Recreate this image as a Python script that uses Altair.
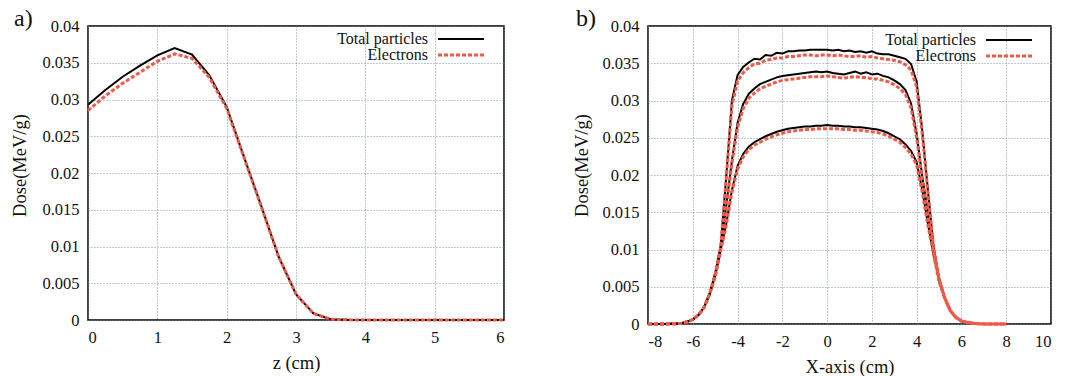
import altair as alt
import pandas as pd

FONT = "'Liberation Serif', 'Times New Roman', Times, serif"
RED = "#F05A48"
GRID = "#6f8ca0"

# ---------------- panel a) depth dose ----------------
Z_A = [0, 0.25, 0.5, 0.75, 1, 1.25, 1.5, 1.75, 2, 2.25, 2.5, 2.75, 3, 3.25,
       3.5, 3.75, 4, 4.5, 5, 5.5, 6]
A_TOTAL = [0.0293, 0.0313, 0.0331, 0.0346, 0.0360, 0.0370, 0.0361, 0.0333,
           0.0290, 0.0222, 0.0155, 0.0086, 0.0035, 0.0009, 0.0001, 0.00002,
           0, 0, 0, 0, 0]
A_ELEC = [0.0285, 0.0305, 0.0322, 0.0337, 0.0352, 0.0362, 0.0356, 0.0330,
          0.0288, 0.0221, 0.0154, 0.0086, 0.0035, 0.0009, 0.0001, 0.00002,
          0, 0, 0, 0, 0]

# ---------------- panel b) lateral profiles ----------------
X_B = [-8, -7.75, -7.5, -7.25, -7, -6.75, -6.5, -6.25, -6, -5.75, -5.5, -5.25,
       -5, -4.75, -4.5, -4.25, -4, -3.75, -3.5, -3.25, -3, -2.75, -2.5, -2.25,
       -2, -1.75, -1.5, -1.25, -1, -0.75, -0.5, -0.25, 0, 0.25, 0.5, 0.75,
       1, 1.25, 1.5, 1.75, 2, 2.25, 2.5, 2.75, 3, 3.25, 3.5, 3.75,
       4, 4.25, 4.5, 4.75, 5, 5.25, 5.5, 5.75, 6, 6.25, 6.5, 6.75,
       7, 7.25, 7.5, 7.75, 8]
LEFT_TAIL = [0, 0, 0, 0, 0.00002, 0.00005, 0.0001, 0.0003, 0.0006, 0.0012,
             0.0022, 0.0040]
RIGHT_TAIL = [0.0035, 0.0018, 0.0009, 0.0004, 0.0002, 0.0001, 0.00004,
              0.00001, 0, 0, 0, 0]

HIGH_TOTAL_CORE = [0.0068, 0.0105, 0.0200, 0.0300, 0.0334, 0.0345, 0.0351,
                   0.0356, 0.0355, 0.0361, 0.0360, 0.0364, 0.0363, 0.0366,
                   0.0366, 0.0367, 0.0367, 0.0368, 0.0368, 0.0368, 0.0368,
                   0.0367, 0.0368, 0.0366, 0.0367, 0.0365, 0.0366, 0.0364,
                   0.0366, 0.0363, 0.0362, 0.0362, 0.0360, 0.0358, 0.0356,
                   0.0349, 0.0325, 0.0260, 0.0180, 0.0105, 0.0062]
HIGH_ELEC_CORE = [0.0067, 0.0104, 0.0197, 0.0293, 0.0326, 0.0337, 0.0344,
                  0.0349, 0.0350, 0.0354, 0.0355, 0.0357, 0.0357, 0.0359,
                  0.0359, 0.0360, 0.0361, 0.0361, 0.0360, 0.0361, 0.0361,
                  0.0360, 0.0361, 0.0360, 0.0359, 0.0359, 0.0360, 0.0358,
                  0.0359, 0.0357, 0.0356, 0.0355, 0.0354, 0.0352, 0.0348,
                  0.0341, 0.0318, 0.0255, 0.0177, 0.0104, 0.0061]
MID_TOTAL_CORE = [0.0066, 0.0103, 0.0160, 0.0220, 0.0270, 0.0295, 0.0309,
                  0.0316, 0.0322, 0.0325, 0.0328, 0.0331, 0.0333, 0.0334,
                  0.0335, 0.0336, 0.0337, 0.0338, 0.0339, 0.0338, 0.0339,
                  0.0337, 0.0336, 0.0335, 0.0337, 0.0339, 0.0336, 0.0338,
                  0.0335, 0.0336, 0.0333, 0.0331, 0.0327, 0.0322, 0.0314,
                  0.0296, 0.0255, 0.0198, 0.0150, 0.0100, 0.0060]
MID_ELEC_CORE = [0.0065, 0.0102, 0.0157, 0.0216, 0.0264, 0.0289, 0.0303,
                 0.0310, 0.0316, 0.0319, 0.0322, 0.0325, 0.0327, 0.0328,
                 0.0329, 0.0330, 0.0331, 0.0332, 0.0332, 0.0332, 0.0333,
                 0.0332, 0.0331, 0.0330, 0.0331, 0.0332, 0.0331, 0.0331,
                 0.0329, 0.0329, 0.0327, 0.0325, 0.0321, 0.0316, 0.0308,
                 0.0290, 0.0250, 0.0194, 0.0147, 0.0099, 0.0059]
LOW_TOTAL_CORE = [0.0064, 0.0100, 0.0135, 0.0180, 0.0212, 0.0228, 0.0238,
                  0.0244, 0.0248, 0.0252, 0.0255, 0.0258, 0.0260, 0.0262,
                  0.0263, 0.0264, 0.0265, 0.0265, 0.0266, 0.0266, 0.0267,
                  0.0266, 0.0266, 0.0265, 0.0265, 0.0264, 0.0264, 0.0263,
                  0.0262, 0.0261, 0.0259, 0.0256, 0.0252, 0.0248, 0.0241,
                  0.0232, 0.0217, 0.0180, 0.0135, 0.0095, 0.0058]
LOW_ELEC_CORE = [0.0063, 0.0099, 0.0133, 0.0177, 0.0208, 0.0224, 0.0234,
                 0.0240, 0.0244, 0.0248, 0.0251, 0.0254, 0.0256, 0.0258,
                 0.0259, 0.0260, 0.0261, 0.0261, 0.0262, 0.0262, 0.0262,
                 0.0262, 0.0262, 0.0261, 0.0261, 0.0260, 0.0260, 0.0259,
                 0.0258, 0.0257, 0.0255, 0.0252, 0.0248, 0.0244, 0.0237,
                 0.0228, 0.0213, 0.0177, 0.0133, 0.0094, 0.0057]

LEGEND_LABELS = ["Total particles", "Electrons"]
Y_TICKS = [0, 0.005, 0.01, 0.015, 0.02, 0.025, 0.03, 0.035, 0.04]
XA_TICKS = [0, 1, 2, 3, 4, 5, 6]
XB_TICKS = [-8, -6, -4, -2, 0, 2, 4, 6, 8, 10]


def rows(xs, ys, curve):
    return [{"x": a, "dose": b, "curve": curve} for a, b in zip(xs, ys)]


df_a_tot = pd.DataFrame(rows(Z_A, A_TOTAL, "a"))
df_a_ele = pd.DataFrame(rows(Z_A, A_ELEC, "a"))

b_tot = []
b_ele = []
for name, tc, ec in [("high", HIGH_TOTAL_CORE, HIGH_ELEC_CORE),
                     ("mid", MID_TOTAL_CORE, MID_ELEC_CORE),
                     ("low", LOW_TOTAL_CORE, LOW_ELEC_CORE)]:
    b_tot += rows(X_B, LEFT_TAIL + tc + RIGHT_TAIL, name)
    b_ele += rows(X_B, LEFT_TAIL + ec + RIGHT_TAIL, name)
df_b_tot = pd.DataFrame(b_tot)
df_b_ele = pd.DataFrame(b_ele)

one = pd.DataFrame({"k": [0]})
label_expr = "'' + datum.value"


def panel(df_t, df_e, xdom, xticks, xtitle, w, h, tag, leg_text_x, leg_y0,
          tag_x, ytitle_x):
    xs = alt.Scale(domain=xdom, nice=False, zero=False)
    ys = alt.Scale(domain=[0, 0.04], nice=False)
    xax = alt.Axis(values=xticks, title=xtitle, labelExpr=label_expr,
                   labelPadding=9, titlePadding=8, labelOverlap=False,
                   gridDash=[1, 2])
    yax = alt.Axis(values=Y_TICKS, title="Dose(MeV/g)", labelExpr=label_expr,
                   labelPadding=9, titleX=ytitle_x, titleY=139,
                   titleAngle=270, titleBaseline="middle", titleAlign="center",
                   labelOverlap=False, gridDash=[1, 2])
    tot = alt.Chart(df_t).mark_line(color="black", strokeWidth=2).encode(
        x=alt.X("x:Q", scale=xs, axis=xax),
        y=alt.Y("dose:Q", scale=ys, axis=yax),
        detail="curve:N",
    )
    ele = alt.Chart(df_e).mark_line(
        color=RED, strokeWidth=3, strokeDash=[4, 2]).encode(
        x=alt.X("x:Q", scale=xs, axis=xax),
        y=alt.Y("dose:Q", scale=ys, axis=yax),
        detail="curve:N",
    )
    t1 = alt.Chart(one).mark_text(
        text=LEGEND_LABELS[0], align="right", baseline="middle",
        font=FONT, fontSize=16, color="#111").encode(
        x=alt.value(leg_text_x), y=alt.value(leg_y0))
    t2 = alt.Chart(one).mark_text(
        text=LEGEND_LABELS[1], align="right", baseline="middle",
        font=FONT, fontSize=16, color="#111").encode(
        x=alt.value(leg_text_x), y=alt.value(leg_y0 + 16))
    r1 = alt.Chart(one).mark_rule(color="black", strokeWidth=2).encode(
        x=alt.value(leg_text_x + 10), x2=alt.value(leg_text_x + 56),
        y=alt.value(leg_y0))
    r2 = alt.Chart(one).mark_rule(
        color=RED, strokeWidth=3, strokeDash=[4, 2]).encode(
        x=alt.value(leg_text_x + 10), x2=alt.value(leg_text_x + 56),
        y=alt.value(leg_y0 + 16))
    tg = alt.Chart(one).mark_text(
        text=tag, align="left", baseline="middle", font=FONT, fontSize=24,
        color="#111").encode(x=alt.value(tag_x), y=alt.value(-7))
    return alt.layer(tot, ele, t1, t2, r1, r2, tg).properties(width=w, height=h)


pa = panel(df_a_tot, df_a_ele, [0, 6], XA_TICKS, "z (cm)", 416, 294, "a)",
           340, 13, -74, -69)
pb = panel(df_b_tot, df_b_ele, [-8, 10], XB_TICKS, "X-axis (cm)", 403, 298,
           "b)", 328, 14, -72, -67)

chart = alt.hconcat(pa, pb, spacing=144, bounds="flush").properties(
    padding={"left": 9, "top": 6, "right": 5, "bottom": 2},
    background="white",
).configure_view(
    stroke="black", strokeWidth=1.5
).configure_axis(
    grid=True, gridColor=GRID, gridDash=[1, 2], gridWidth=1, gridOpacity=0.9,
    ticks=False, domain=False,
    labelFont=FONT, labelFontSize=16.5, labelColor="#111",
    titleFont=FONT, titleFontSize=18.5, titleFontWeight="normal",
    titleColor="#111",
)

chart.save("out.html", embed_options={"renderer": "svg", "actions": False})
